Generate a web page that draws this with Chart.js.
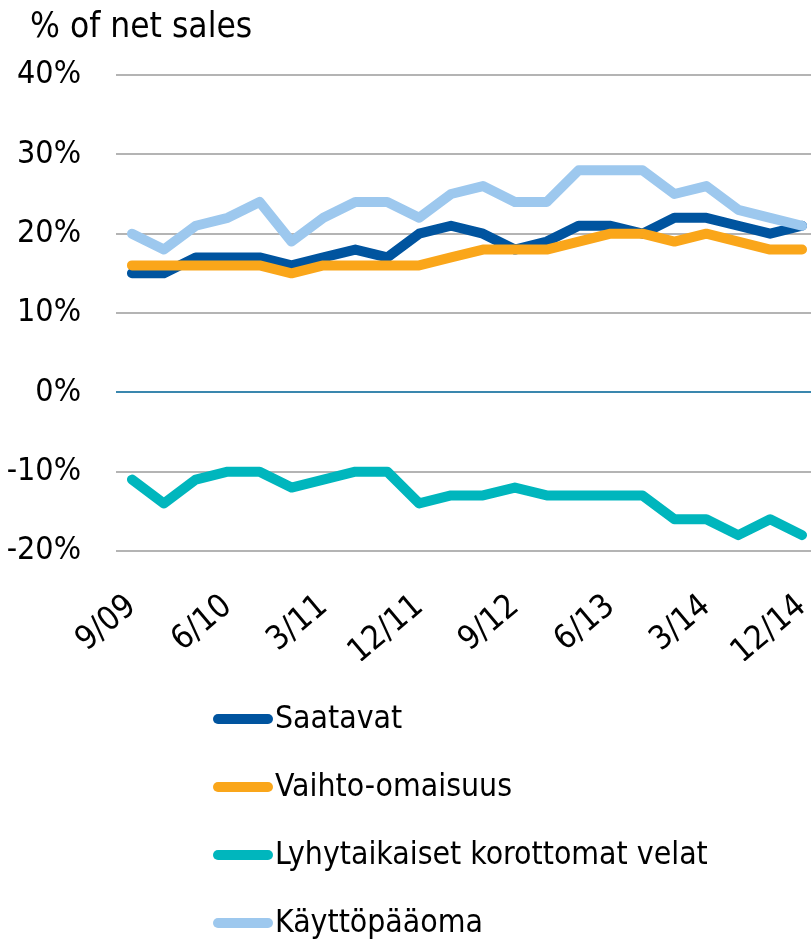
<!DOCTYPE html>
<html lang="fi">
<head>
    <meta charset="UTF-8">
    <meta name="viewport" content="width=device-width, initial-scale=1.0">
    <script src="https://cdn.jsdelivr.net/npm/chart.js"></script>
    <title>Käyttöpääoma</title>
    <style>
        html, body { margin: 0; padding: 0; overflow: hidden; background: #fff; }
        .container { width: 818px; height: 941px; }
    </style>
</head>
<body>
    <div class="container">
        <canvas id="mychart"></canvas>
    </div>

    <script>
        // quarterly figures, % of net sales
        const quarters = ['9/09','12/09','3/10','6/10','9/10','12/10','3/11','6/11','9/11','12/11','3/12','6/12','9/12','12/12','3/13','6/13','9/13','12/13','3/14','6/14','9/14','12/14'];
        const saatavat = [15,15,17,17,17,16,17,18,17,20,21,20,18,19,21,21,20,22,22,21,20,21];
        const vaihtoOmaisuus = [16,16,16,16,16,15,16,16,16,16,17,18,18,18,19,20,20,19,20,19,18,18];
        const lyhytVelat = [-11,-14,-11,-10,-10,-12,-11,-10,-10,-14,-13,-13,-12,-13,-13,-13,-13,-16,-16,-18,-16,-18];
        const kayttopaaoma = [20,18,21,22,24,19,22,24,24,22,25,26,24,24,28,28,28,25,26,23,22,21];
        const yTicks = [-20,-10,0,10,20,30,40];
        const labelStep = 3;

        const FONT = '"DejaVu Sans Condensed", "DejaVu Sans", sans-serif';
        Chart.defaults.font.family = FONT;
        Chart.defaults.color = '#000';

        function series(label, data, color, order) {
            return {
                label: label,
                data: data,
                borderColor: color,
                backgroundColor: color,
                borderWidth: 10,
                borderCapStyle: 'round',
                borderJoinStyle: 'round',
                pointRadius: 0,
                tension: 0,
                fill: false,
                order: order
            };
        }

        // title top left + legend stacked under the plot
        const titleAndLegend = {
            id: 'titleAndLegend',
            afterDraw(chart) {
                const c = chart.ctx;
                c.save();
                c.fillStyle = '#000';
                c.textAlign = 'left';
                c.textBaseline = 'alphabetic';
                c.font = '35px ' + FONT;
                c.fillText('% of net sales', 30, 37);

                c.font = '31.7px ' + FONT;
                c.textBaseline = 'middle';
                const top = chart.chartArea.bottom + 168;
                chart.data.datasets.forEach((ds, i) => {
                    const y = top + i * 68;
                    c.strokeStyle = ds.borderColor;
                    c.lineWidth = 10;
                    c.lineCap = 'round';
                    c.beginPath();
                    c.moveTo(218, y);
                    c.lineTo(268, y);
                    c.stroke();
                    c.fillStyle = '#000';
                    c.fillText(ds.label, 275, y + 1);
                });
                c.restore();
            }
        };

        let mychart = document.getElementById('mychart').getContext('2d');
        let charts = new Chart(mychart, {
            type: 'line',
            data: {
                labels: quarters,
                datasets: [
                    series('Saatavat', saatavat, '#00549F', 3),
                    series('Vaihto-omaisuus', vaihtoOmaisuus, '#FAA61A', 2),
                    series('Lyhytaikaiset korottomat velat', lyhytVelat, '#00B6BD', 1),
                    series('Käyttöpääoma', kayttopaaoma, '#9DC8EE', 0)
                ]
            },
            options: {
                responsive: true,
                maintainAspectRatio: false,
                animation: false,
                layout: { padding: { top: 75, bottom: 280, left: 0, right: 0 } },
                plugins: {
                    legend: { display: false },
                    title: { display: false },
                    tooltip: { enabled: false }
                },
                scales: {
                    x: {
                        offset: true,
                        grid: { display: false },
                        border: { display: false },
                        ticks: {
                            autoSkip: false,
                            minRotation: 40,
                            maxRotation: 40,
                            padding: 28,
                            font: { size: 33 },
                            callback: (v, i) => i % labelStep === 0 ? quarters[i] : ''
                        },
                        afterFit: s => {
                            s.height = 110;
                            s.paddingLeft = 0;
                            s.paddingRight = 0;
                        }
                    },
                    y: {
                        min: -20,
                        max: 40,
                        afterBuildTicks: s => { s.ticks = yTicks.map(v => ({ value: v })); },
                        grid: {
                            drawTicks: false,
                            lineWidth: 2,
                            color: ctx => ctx.tick && ctx.tick.value === 0 ? '#3A87AE' : '#B4B4B4'
                        },
                        border: { display: false },
                        ticks: {
                            padding: 35,
                            font: { size: 32 },
                            callback: v => v + '%'
                        },
                        afterFit: s => { s.width = 116; }
                    }
                }
            },
            plugins: [titleAndLegend]
        });
    </script>
</body>
</html>
